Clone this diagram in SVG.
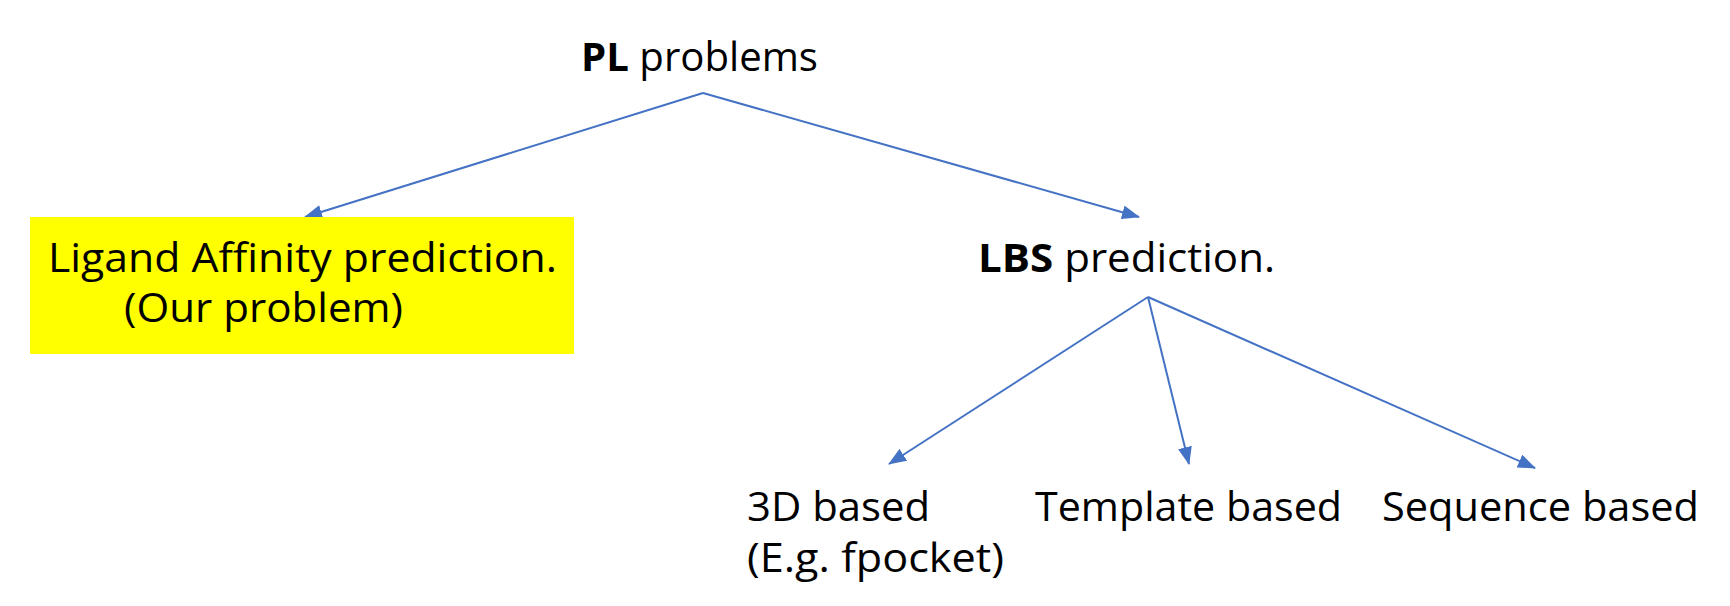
<svg xmlns="http://www.w3.org/2000/svg" width="1730" height="606" viewBox="0 0 1730 606">
<style>
text{font-family:"Open Sans","Noto Sans","Liberation Sans",sans-serif;font-size:40px;fill:#000}
.b{font-weight:bold}
.c{stroke:#4472C4;stroke-width:2;fill:none;marker-end:url(#ah)}
</style>
<defs>
<marker id="ah" markerUnits="userSpaceOnUse" markerWidth="18" markerHeight="14" refX="17" refY="7" orient="auto">
<path d="M0,0 L18,7 L0,14 z" fill="#4472C4"/>
</marker>
</defs>
<rect width="1730" height="606" fill="#fff"/>
<g id="connectors">
<line class="c" x1="703" y1="93" x2="305" y2="217"/>
<line class="c" x1="703" y1="93" x2="1139" y2="217"/>
<line class="c" x1="1148" y1="297" x2="889" y2="464"/>
<line class="c" x1="1148" y1="297" x2="1189" y2="464"/>
<line class="c" x1="1148" y1="297" x2="1535" y2="468"/>
</g>
<g id="pl">
<text x="581" y="71" textLength="237" lengthAdjust="spacingAndGlyphs"><tspan class="b">PL</tspan> problems</text>
</g>
<g id="ligand">
<rect x="30" y="217" width="544" height="137" fill="#FFFF00"/>
<text x="48" y="272" textLength="509" lengthAdjust="spacingAndGlyphs">Ligand Affinity prediction.</text>
<text x="124" y="322" textLength="279" lengthAdjust="spacingAndGlyphs">(Our problem)</text>
</g>
<g id="lbs">
<text x="978" y="272" textLength="297" lengthAdjust="spacingAndGlyphs"><tspan class="b">LBS</tspan> prediction.</text>
</g>
<g id="d3">
<text x="747" y="521" textLength="183" lengthAdjust="spacingAndGlyphs">3D based</text>
<text x="747" y="572" textLength="257" lengthAdjust="spacingAndGlyphs">(E.g. fpocket)</text>
</g>
<g id="template">
<text x="1035" y="521" textLength="307" lengthAdjust="spacingAndGlyphs">Template based</text>
</g>
<g id="sequence">
<text x="1382" y="521" textLength="317" lengthAdjust="spacingAndGlyphs">Sequence based</text>
</g>
</svg>
